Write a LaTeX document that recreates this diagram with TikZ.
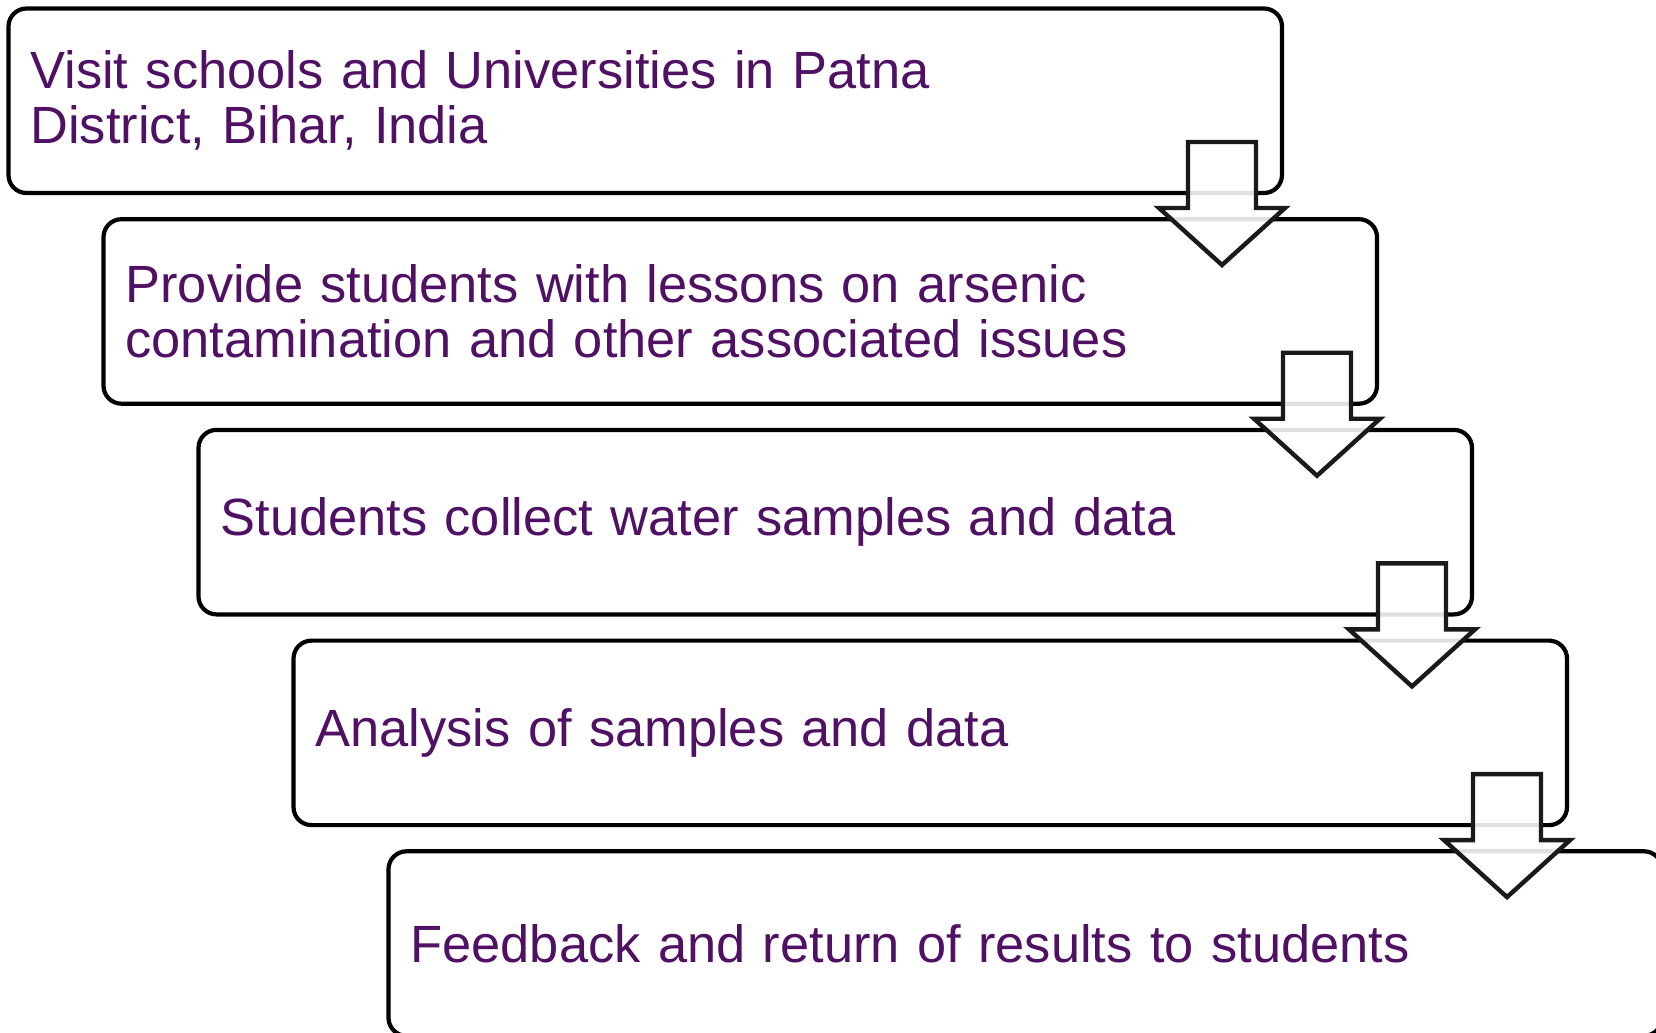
\documentclass[tikz,border=0pt]{standalone}
\usepackage{fontspec}
\setmainfont{Liberation Sans}
\usetikzlibrary{positioning}
\definecolor{steptext}{RGB}{80,16,100}
\definecolor{arrowline}{RGB}{26,26,26}
\tikzset{
  stepbox/.style={draw,line width=2.1pt,rounded corners=9pt,outer sep=0pt,
    minimum height=92.25pt,text width=614.75pt,inner xsep=11pt,align=left,
    text=steptext,font=\fontsize{26.2pt}{27.5pt}\selectfont},
  downarrow/.style={draw=arrowline,line width=2.2pt,fill=white,fill opacity=0.88,line join=miter}
}
\begin{document}
\begin{tikzpicture}[x=1pt,y=1pt]
  \useasboundingbox (0,0) rectangle (828,-516.5);
  \node (s1) [stepbox,anchor=north west] at (4.25,-4.25) {Visit schools and Universities in Patna\\District, Bihar, India};
  \node (s2) [stepbox,below=13.1pt of s1,xshift=47.5pt] {Provide students with lessons on arsenic\\contamination and other associated issues};
  \node (s3) [stepbox,below=13.1pt of s2,xshift=47.5pt] {Students collect water samples and data};
  \node (s4) [stepbox,below=13.1pt of s3,xshift=47.5pt] {Analysis of samples and data};
  \node (s5) [stepbox,below=13.1pt of s4,xshift=47.5pt] {Feedback and return of results to students};
  % block arrows between the steps
  \foreach \n in {s1,s2,s3,s4}
    \draw[downarrow,shift={(\n.south east)}] (-47,25.5) -- (-13,25.5) -- (-13,-7.5) -- (1.5,-7.5)
      -- (-30,-36) -- (-61.5,-7.5) -- (-47,-7.5) -- cycle;
\end{tikzpicture}
\end{document}
